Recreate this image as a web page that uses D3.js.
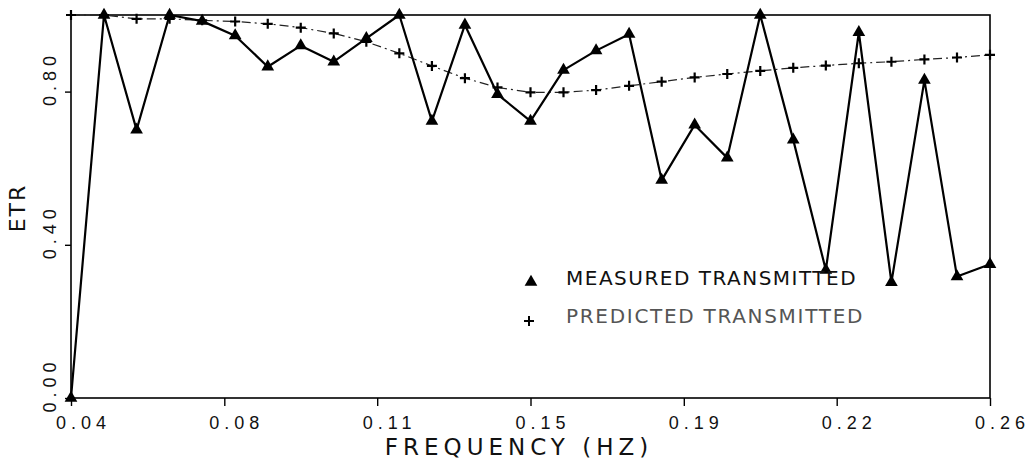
<!DOCTYPE html>
<html lang="en">
<head>
<meta charset="UTF-8">
<title>ETR vs Frequency</title>
<script src="https://d3js.org/d3.v7.min.js"></script>
<style>
    body { margin: 0; padding: 0; background: #fff; }
    svg { display: block; font-family: "DejaVu Sans", sans-serif; }
    .tick line { stroke: #000; stroke-width: 1.4; }
    .tick text { fill: #111; font-size: 18px; letter-spacing: 5px; }
</style>
</head>
<body>
<svg id="chart" width="1036" height="468"></svg>
<script>
    // frequencies (Hz) of the measured / predicted points
    const freqs = [0.0400, 0.0479, 0.0557, 0.0636, 0.0714, 0.0793, 0.0871, 0.0950, 0.1029, 0.1107,
                   0.1186, 0.1264, 0.1343, 0.1421, 0.1500, 0.1579, 0.1657, 0.1736, 0.1814, 0.1893,
                   0.1971, 0.2050, 0.2129, 0.2207, 0.2286, 0.2364, 0.2443, 0.2521, 0.2600];
    const measured = [0.00, 1.00, 0.70, 1.00, 0.984, 0.946, 0.865, 0.920, 0.878, 0.939,
                      1.00, 0.723, 0.974, 0.793, 0.723, 0.856, 0.907, 0.950, 0.569, 0.713,
                      0.627, 1.00, 0.674, 0.334, 0.955, 0.302, 0.830, 0.317, 0.349];
    const predicted = [1.00, 1.00, 0.990, 0.990, 0.986, 0.983, 0.977, 0.967, 0.952, 0.930,
                       0.900, 0.867, 0.835, 0.811, 0.798, 0.798, 0.804, 0.815, 0.826, 0.837,
                       0.846, 0.854, 0.862, 0.868, 0.874, 0.878, 0.884, 0.889, 0.896];
    const xTicks = [0.04, 0.0767, 0.1133, 0.15, 0.1867, 0.2233, 0.26];
    const xTickLabels = ["0.04", "0.08", "0.11", "0.15", "0.19", "0.22", "0.26"];
    const yTicks = [0, 0.4, 0.8];
    const yTickLabels = ["0.00", "0.40", "0.80"];
    const legendLabels = ["MEASURED TRANSMITTED", "PREDICTED TRANSMITTED"];

    const margin = { top: 15, right: 46, bottom: 70, left: 71 };
    const svg = d3.select("#chart");
    const width = 1036 - margin.left - margin.right;
    const height = 468 - margin.top - margin.bottom;

    const g = svg.append("g").attr("transform", `translate(${margin.left},${margin.top})`);

    const x = d3.scaleLinear().domain([0.04, 0.26]).range([0, width]);
    const y = d3.scaleLinear().domain([0, 1.0]).range([height, 0]);

    // x axis
    const xAxis = g.append("g")
        .attr("transform", `translate(0,${height})`)
        .call(d3.axisBottom(x).tickValues(xTicks).tickSize(8).tickFormat((d, i) => xTickLabels[i]));
    xAxis.select(".domain").remove();
    xAxis.selectAll("text")
        .attr("dy", null)
        .attr("y", 31)
        .attr("x", 12);

    // y axis, labels rotated
    const yAxis = g.append("g")
        .call(d3.axisLeft(y).tickValues(yTicks).tickSize(6).tickFormat((d, i) => yTickLabels[i]));
    yAxis.select(".domain").remove();
    yAxis.selectAll("text")
        .attr("dy", null)
        .attr("transform", "rotate(-90)")
        .attr("x", -14)
        .attr("y", -15)
        .style("text-anchor", "start");

    // frame
    g.append("rect")
        .attr("width", width)
        .attr("height", height)
        .attr("fill", "none")
        .attr("stroke", "#000")
        .attr("stroke-width", 1.6);

    // predicted line (dash-dot)
    const line = d3.line().x((d, i) => x(freqs[i])).y(d => y(d));
    g.append("path")
        .datum(predicted)
        .attr("fill", "none")
        .attr("stroke", "#222")
        .attr("stroke-width", 1.2)
        .attr("stroke-dasharray", "9,4,2,4")
        .attr("d", line);

    // measured line
    g.append("path")
        .datum(measured)
        .attr("fill", "none")
        .attr("stroke", "#000")
        .attr("stroke-width", 2.2)
        .attr("stroke-linejoin", "round")
        .attr("d", line);

    const plusPath = "M-5,0H5M0,-5V5";
    const tri = d3.symbol(d3.symbolTriangle).size(70);

    g.selectAll(".pred")
        .data(predicted)
        .join("path")
        .attr("class", "pred")
        .attr("transform", (d, i) => `translate(${x(freqs[i])},${y(d)})`)
        .attr("d", plusPath)
        .attr("stroke", "#000")
        .attr("stroke-width", 2.2);

    g.selectAll(".meas")
        .data(measured)
        .join("path")
        .attr("class", "meas")
        .attr("transform", (d, i) => `translate(${x(freqs[i])},${y(d)})`)
        .attr("d", tri)
        .attr("fill", "#000");

    // legend
    svg.append("path")
        .attr("transform", "translate(531,282)")
        .attr("d", tri)
        .attr("fill", "#000");
    svg.append("text")
        .attr("x", 566).attr("y", 285)
        .style("font-size", "20px").style("letter-spacing", "1.5px")
        .attr("fill", "#111")
        .text(legendLabels[0]);
    svg.append("path")
        .attr("transform", "translate(529,321)")
        .attr("d", plusPath)
        .attr("stroke", "#000")
        .attr("stroke-width", 2);
    svg.append("text")
        .attr("x", 566).attr("y", 323)
        .style("font-size", "20px").style("letter-spacing", "1.7px")
        .attr("fill", "#555")
        .text(legendLabels[1]);

    // axis titles
    svg.append("text")
        .attr("x", 519).attr("y", 455)
        .attr("text-anchor", "middle")
        .style("font-size", "23px").style("letter-spacing", "5px")
        .attr("fill", "#111")
        .text("FREQUENCY  (HZ)");
    svg.append("text")
        .attr("transform", "translate(25,208) rotate(-90)")
        .attr("text-anchor", "middle")
        .style("font-size", "22px").style("letter-spacing", "2px")
        .attr("fill", "#111")
        .text("ETR");
</script>
</body>
</html>
